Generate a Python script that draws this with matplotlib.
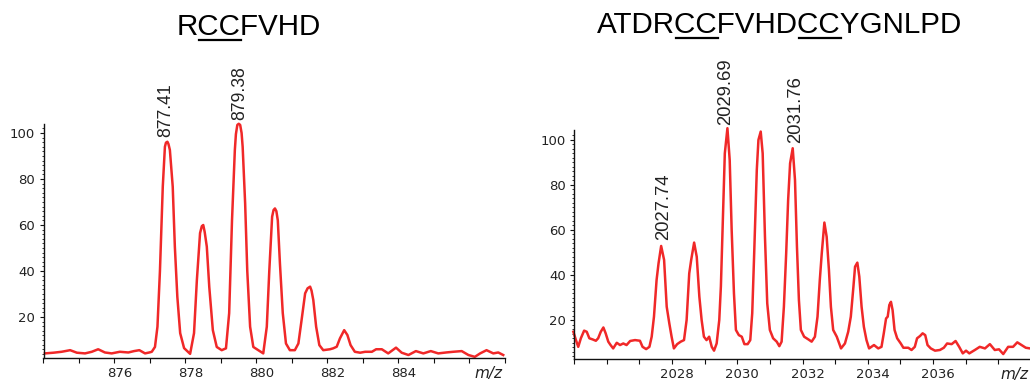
import numpy as np
import matplotlib
matplotlib.use("Agg")
import matplotlib.pyplot as plt
from matplotlib.lines import Line2D
from matplotlib.transforms import ScaledTranslation

# ---- data ----
# left spectrum: RCCFVHD
mz_left = [874.04, 874.28, 874.51, 874.75, 874.94, 875.17, 875.36, 875.54, 875.73, 875.92,
           876.15, 876.39, 876.55, 876.70, 876.86, 876.98, 877.05, 877.14, 877.21, 877.28,
           877.36, 877.42, 877.45, 877.49, 877.52, 877.56, 877.64, 877.70, 877.77, 877.85,
           877.96, 878.13, 878.24, 878.32, 878.41, 878.46, 878.50, 878.54, 878.60, 878.67,
           878.77, 878.88, 879.02, 879.14, 879.23, 879.31, 879.39, 879.42, 879.46, 879.50,
           879.54, 879.58, 879.61, 879.68, 879.74, 879.82, 879.91, 880.05, 880.19, 880.29,
           880.36, 880.44, 880.48, 880.52, 880.56, 880.60, 880.66, 880.74, 880.83, 880.94,
           881.08, 881.18, 881.27, 881.37, 881.44, 881.51, 881.55, 881.60, 881.68, 881.77,
           881.88, 882.07, 882.16, 882.26, 882.35, 882.47, 882.56, 882.65, 882.77, 882.92,
           883.06, 883.25, 883.37, 883.53, 883.71, 883.93, 884.09, 884.28, 884.49, 884.70,
           884.91, 885.12, 885.34, 885.54, 885.78, 885.97, 886.15, 886.30, 886.48, 886.67,
           886.81, 886.95]
int_left = [4.2, 4.5, 4.9, 5.6, 4.5, 4.2, 4.9, 6.0, 4.6, 4.2,
            4.9, 4.6, 5.2, 5.6, 4.2, 4.6, 4.9, 7.0, 15.8, 40.0,
            76.7, 94.0, 95.8, 96.2, 95.2, 92.6, 76.7, 50.6, 28.8, 13.0,
            6.5, 4.0, 13.0, 36.0, 56.5, 59.5, 60.0, 57.0, 50.6, 33.0,
            14.3, 7.0, 5.6, 6.4, 21.7, 62.0, 92.6, 99.5, 103.5, 104.0,
            103.5, 100.0, 94.0, 69.4, 40.0, 15.8, 7.0, 5.6, 4.2, 15.8,
            40.0, 63.6, 66.5, 67.2, 66.0, 62.0, 43.3, 21.7, 8.5, 5.6,
            5.6, 8.5, 18.7, 30.3, 32.5, 33.2, 31.5, 27.4, 15.8, 7.8,
            5.6, 6.0, 6.4, 7.1, 10.7, 14.3, 12.2, 7.8, 4.9, 4.5,
            4.9, 4.9, 6.0, 6.0, 4.2, 6.7, 4.5, 3.5, 5.2, 4.2,
            5.2, 4.2, 4.6, 4.9, 5.2, 3.5, 2.7, 4.2, 5.6, 4.2,
            4.6, 3.5]
labels_left = ["877.41", "879.38"]
label_pos_left = [(877.44, 98.3), (879.54, 105.7)]

# right spectrum: ATDRCCFVHDCCYGNLPD
mz_right = [2024.98, 2025.06, 2025.13, 2025.21, 2025.31, 2025.39, 2025.47, 2025.57, 2025.67, 2025.74,
            2025.82, 2025.90, 2025.97, 2026.05, 2026.12, 2026.20, 2026.31, 2026.41, 2026.51, 2026.61,
            2026.72, 2026.87, 2027.02, 2027.10, 2027.21, 2027.31, 2027.38, 2027.45, 2027.53, 2027.59,
            2027.67, 2027.76, 2027.84, 2027.92, 2027.99, 2028.06, 2028.16, 2028.27, 2028.37, 2028.45,
            2028.53, 2028.59, 2028.68, 2028.76, 2028.84, 2028.91, 2028.98, 2029.06, 2029.14, 2029.22,
            2029.29, 2029.37, 2029.45, 2029.50, 2029.57, 2029.62, 2029.70, 2029.77, 2029.83, 2029.90,
            2029.96, 2030.05, 2030.14, 2030.22, 2030.32, 2030.40, 2030.46, 2030.52, 2030.60, 2030.65,
            2030.72, 2030.78, 2030.85, 2030.92, 2031.00, 2031.10, 2031.21, 2031.29, 2031.36, 2031.43,
            2031.50, 2031.56, 2031.62, 2031.70, 2031.77, 2031.83, 2031.89, 2031.95, 2032.05, 2032.18,
            2032.28, 2032.38, 2032.46, 2032.53, 2032.59, 2032.67, 2032.74, 2032.81, 2032.87, 2032.94,
            2033.05, 2033.18, 2033.30, 2033.40, 2033.48, 2033.56, 2033.61, 2033.68, 2033.74, 2033.81,
            2033.88, 2033.96, 2034.04, 2034.19, 2034.32, 2034.42, 2034.49, 2034.56, 2034.61, 2034.66,
            2034.71, 2034.76, 2034.82, 2034.90, 2035.01, 2035.09, 2035.24, 2035.34, 2035.44, 2035.51,
            2035.60, 2035.68, 2035.76, 2035.83, 2035.93, 2036.06, 2036.21, 2036.33, 2036.43, 2036.57,
            2036.69, 2036.80, 2036.91, 2037.01, 2037.11, 2037.28, 2037.43, 2037.59, 2037.74, 2037.89,
            2038.02, 2038.15, 2038.30, 2038.45, 2038.58, 2038.71, 2038.84, 2038.97]
int_right = [14.8, 11.1, 8.1, 11.9, 15.3, 14.8, 11.9, 11.4, 10.8, 11.9,
             14.8, 16.7, 14.1, 10.4, 8.9, 7.4, 9.9, 8.9, 9.6, 8.9,
             10.7, 11.1, 10.8, 8.1, 7.1, 8.1, 12.6, 21.5, 37.8, 45.2,
             52.9, 46.7, 25.9, 18.5, 12.6, 7.4, 9.3, 10.4, 11.1, 20.0,
             40.7, 46.7, 54.4, 48.1, 30.4, 20.0, 12.6, 11.1, 12.6, 8.1,
             6.4, 9.6, 20.0, 35.0, 70.4, 94.0, 105.2, 91.0, 60.0, 31.9,
             15.6, 13.3, 12.6, 9.3, 9.3, 11.1, 23.0, 49.6, 86.7, 100.0,
             103.7, 94.0, 57.0, 27.4, 15.6, 11.9, 10.4, 8.4, 10.4, 25.9,
             49.6, 73.3, 89.6, 96.3, 82.2, 52.6, 28.9, 15.6, 12.6, 11.4,
             10.4, 12.6, 21.5, 37.8, 49.6, 63.3, 57.0, 42.2, 25.9, 15.6,
             12.6, 7.4, 9.6, 14.8, 21.5, 34.8, 43.7, 45.5, 39.3, 25.9,
             17.0, 11.1, 7.4, 8.9, 7.4, 8.1, 14.1, 20.7, 21.5, 26.7,
             28.1, 24.4, 15.6, 11.9, 9.6, 7.7, 7.7, 6.7, 8.1, 11.9,
             12.9, 14.1, 13.3, 8.9, 7.4, 6.4, 6.7, 7.7, 9.6, 9.3,
             10.7, 8.1, 5.2, 6.4, 5.2, 6.7, 8.1, 7.4, 9.3, 6.7,
             7.0, 4.9, 8.1, 8.1, 10.1, 8.9, 7.7, 7.4]
labels_right = ["2027.74", "2029.69", "2031.76"]
label_pos_right = [(2027.74, 55.6), (2029.65, 106.7), (2031.80, 98.5)]

W, H = 1030, 380
fig = plt.figure(figsize=(W / 100, H / 100), dpi=100)

red = '#f02828'
txt = '#222222'
title_font = ['Liberation Sans', 'DejaVu Sans']


def setup_axis(ax, xlim, ylim, labeled):
    ax.set_xlim(*xlim)
    ax.set_ylim(*ylim)
    for s in ['top', 'right']:
        ax.spines[s].set_visible(False)
    for s in ['left', 'bottom']:
        ax.spines[s].set_linewidth(1.0)
        ax.spines[s].set_color('#111111')
    ticks = np.arange(int(np.ceil(xlim[0])), int(np.floor(xlim[1])) + 1)
    ax.set_xticks(ticks)
    ax.set_xticklabels([str(t) if t in labeled else '' for t in ticks])
    ax.set_yticks([20, 40, 60, 80, 100])
    ax.set_yticks(np.arange(4, 104, 2), minor=True)
    ax.tick_params(axis='x', direction='out', length=3.5, width=0.8, pad=3,
                   labelsize=9.5, labelcolor=txt, color='#111111')
    ax.tick_params(axis='y', which='major', direction='out', length=3, width=0.8, pad=3,
                   labelsize=9.5, labelcolor=txt, color='#111111')
    ax.tick_params(axis='y', which='minor', direction='out', length=1.8, width=0.6,
                   color='#111111')
    ax.tick_params(axis='x', which='minor', length=0)
    off = ScaledTranslation(0.05, 0, fig.dpi_scale_trans)
    for lab in ax.get_xticklabels():
        lab.set_transform(lab.get_transform() + off)
    ax.text(1 - 17 / (ax.get_position().width * W), -0.035, 'm/z', transform=ax.transAxes,
            ha='center', va='top', fontsize=11, style='italic', color=txt)


def text_width(s, size, r):
    t = fig.text(0, 0, s, fontsize=size, family=title_font)
    w = t.get_window_extent(r).width
    t.remove()
    return w


def title_with_lines(cx, base_y, s, spans, line_y, size=21.3):
    t = fig.text(cx / W, 1 - base_y / H, s, ha='center', va='baseline',
                 fontsize=size, family=title_font, color='black')
    r = fig.canvas.get_renderer()
    bb = t.get_window_extent(r)
    full = text_width(s, size, r)
    x_start = bb.x0 + (bb.width - full) / 2
    for a, b in spans:
        x0 = x_start + text_width(s[:a], size, r) + 1
        x1 = x_start + text_width(s[:b], size, r)
        fig.add_artist(Line2D([x0 / W, x1 / W], [1 - line_y / H, 1 - line_y / H],
                              color='black', lw=1.6, transform=fig.transFigure))


# left panel
ax1 = fig.add_axes([43.5 / W, 22 / H, 461.5 / W, 234 / H])
ax1.plot(mz_left, int_left, color=red, lw=1.8, clip_on=False, solid_joinstyle='round')
setup_axis(ax1, (874, 887), (2.2, 103.9), [876, 878, 880, 882, 884])
for lab, (x, y) in zip(labels_left, label_pos_left):
    ax1.text(x, y, lab, rotation=90, ha='center', va='bottom', fontsize=12.7,
             family=title_font, color=txt, clip_on=False)

# right panel
ax2 = fig.add_axes([574 / W, 21 / H, 457 / W, 229 / H])
ax2.plot(mz_right, int_right, color=red, lw=1.8, clip_on=False, solid_joinstyle='round')
setup_axis(ax2, (2025, 2039), (2.7, 104.4), [2028, 2030, 2032, 2034, 2036])
for lab, (x, y) in zip(labels_right, label_pos_right):
    ax2.text(x, y, lab, rotation=90, ha='center', va='bottom', fontsize=13.3,
             family=title_font, color=txt, clip_on=False)

title_with_lines(249, 35, "RCCFVHD", [(1, 3)], 40)
title_with_lines(780, 33, "ATDRCCFVHDCCYGNLPD", [(4, 6), (10, 12)], 37.5)

fig.savefig("out.png", dpi=100)
